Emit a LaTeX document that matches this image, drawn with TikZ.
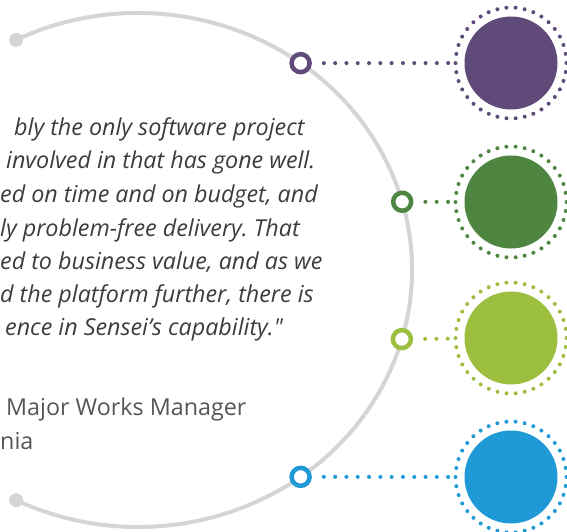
\documentclass[tikz,border=0pt]{standalone}
\usepackage{fontspec}
\setmainfont{Open Sans}[Ligatures=TeXOff]
\frenchspacing
\usetikzlibrary{positioning}
\definecolor{arcgray}{HTML}{D5D5D5}
\definecolor{plum}{HTML}{5F4A7A}
\definecolor{leaf}{HTML}{4D8541}
\definecolor{lime}{HTML}{9DBF3F}
\definecolor{sky}{HTML}{1F9AD6}
\definecolor{quotegray}{HTML}{3C3C3C}
\definecolor{namegray}{HTML}{555555}
\tikzstyle{arcline} = [draw=arcgray, line width=4pt]
\tikzstyle{enddot} = [circle, fill=arcgray, minimum size=14pt, inner sep=0pt]
\tikzstyle{quotetext} = [anchor=base west, inner sep=0pt, text=quotegray,
  font=\fontsize{23.3}{33}\selectfont\itshape]
\tikzstyle{nametext} = [anchor=base west, inner sep=0pt, text=namegray,
  font=\fontsize{23.3}{33}\selectfont]
\tikzset{
    ring/.style={circle, draw=#1, line width=4.5pt, fill=white,
        minimum size=18pt, inner sep=0pt},
    disc/.style={circle, fill=#1, minimum size=93pt, inner sep=0pt},
    dotline/.style={draw=#1, line width=4pt, line cap=round,
        dash pattern=on 0pt off 11.3pt, shorten <=12pt, shorten >=16pt},
    dotring/.style={draw=#1, line width=4pt, line cap=round,
        dash pattern=on 0pt off 9.177pt}}
\newcommand{\quoteline}[4]{node (#1) [quotetext] at (#2,#3) {#4}}
\newcommand{\stage}[4]{%
  \path (c) ++(#2:274pt and 257pt) node (r#1) [ring=#4] {};
  \node (d#1) [disc=#4] at (511,#3) {};
  \draw [dotring=#4] (d#1) circle (55.5);
  \path [dotline=#4] (r#1) -- (d#1);}

\begin{document}
\begin{tikzpicture}[x=1pt, y=1pt]
\useasboundingbox (0,0) rectangle (567,531);
% Draw the big arc
\coordinate (c) at (138,261);
\draw [arcline] (c) ++(116.4:274pt and 257pt)
  arc [start angle=116.4, end angle=-116.4, x radius=274, y radius=257];
\path (c) ++(116.4:274pt and 257pt) node (e1) [enddot] {};
\path (c) ++(-116.4:274pt and 257pt) node (e2) [enddot] {};

% Draw the quote
\path \quoteline{q1}{14}{395}{bly the only software project};
\path \quoteline{q2}{6}{362}{involved in that has gone well.};
\path \quoteline{q3}{0}{328.5}{ed on time and on budget, and};
\path \quoteline{q4}{0}{295}{ly problem-free delivery. That};
\path \quoteline{q5}{0}{262}{ed to business value, and as we};
\path \quoteline{q6}{0}{229}{d the platform further, there is};
\path \quoteline{q7}{5}{196}{ence in Sensei’s capability."};
\node (n1) [nametext] at (6,116) {Major Works Manager};
\node (n2) [nametext] at (0,82) {nia};

% Draw rings, dotted lines and discs
\stage{1}{53.6}{468}{plum}
\stage{2}{15.4}{329}{leaf}
\stage{3}{-15.6}{193}{lime}
\stage{4}{-53.6}{54}{sky}
\end{tikzpicture}
\end{document}
